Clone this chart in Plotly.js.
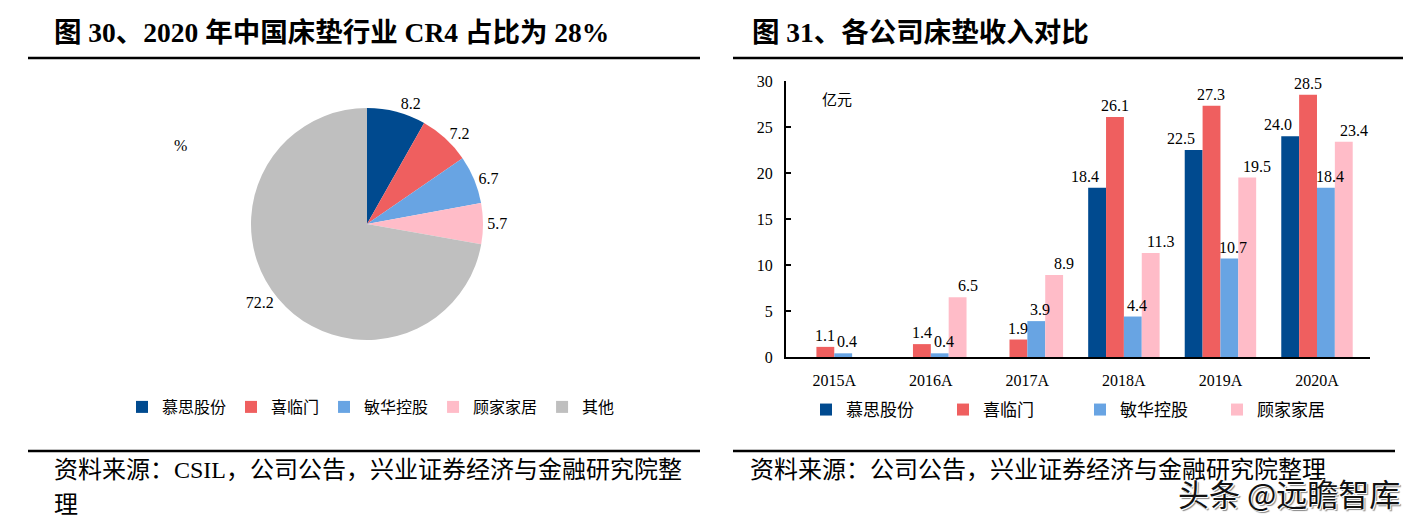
<!DOCTYPE html>
<html>
<head>
<meta charset="utf-8">
<script src="https://cdn.plot.ly/plotly-3.0.1.min.js"></script>
<style>html,body{margin:0;padding:0;background:#fff;}#chart{width:1410px;height:522px;}</style>
</head>
<body>
<div id="chart"></div>
<script>
// ---- data ----
const pieLabels = ['慕思股份', '喜临门', '敏华控股', '顾家家居', '其他'];
const pieValues = [8.2, 7.2, 6.7, 5.7, 72.2];

const years = ['2015A', '2016A', '2017A', '2018A', '2019A', '2020A'];
const companies = ['慕思股份', '喜临门', '敏华控股', '顾家家居'];
const derucci = [null, null, null, 18.4, 22.5, 24.0];
const xilinmen = [1.1, 1.4, 1.9, 26.1, 27.3, 28.5];
const minhua = [0.4, 0.4, 3.9, 4.4, 10.7, 18.4];
const kuka = [null, 6.5, 8.9, 11.3, 19.5, 23.4];
const yTicks = [0, 5, 10, 15, 20, 25, 30];

// ---- style ----
const colors = ['#004A8F', '#EF5F5F', '#68A4E3', '#FFBCC8', '#BFBFBF'];
const serif = 'Liberation Serif, Noto Sans CJK SC, serif';
const W = 1410, H = 522;
const px = v => v / W;
const py = v => 1 - v / H;
const X0 = 786, X1 = 1370, BARGAP = 0.26;
const labelNudge = [-12, 0, 4, 10];   // per-series horizontal nudge of value labels (px)

const pie = {
  type: 'pie',
  labels: pieLabels,
  values: pieValues,
  sort: false,
  direction: 'clockwise',
  rotation: 0,
  marker: {colors: colors, line: {width: 0}},
  textinfo: 'value',
  texttemplate: '%{value:.1f}',
  textposition: 'outside',
  textfont: {family: serif, size: 16, color: '#000'},
  outsidetextfont: {family: serif, size: 16, color: '#000'},
  automargin: false,
  domain: {x: [px(251), px(483)], y: [py(340), py(108)]},
  legend: 'legend',
  hoverinfo: 'label+value'
};

const series = [derucci, xilinmen, minhua, kuka];
const bars = series.map((vals, i) => ({
  type: 'bar',
  name: companies[i],
  x: years,
  y: vals,
  marker: {color: colors[i]},
  xaxis: 'x',
  yaxis: 'y',
  legend: 'legend2'
}));

// value labels drawn on top of all bars, positioned from the data
const catW = (X1 - X0) / years.length;
const barW = catW * (1 - BARGAP) / series.length;
const labelAnns = [];
series.forEach((vals, i) => {
  vals.forEach((v, j) => {
    if (v == null) return;
    labelAnns.push({
      xref: 'x', yref: 'y', x: years[j], y: v,
      xanchor: 'center', yanchor: 'bottom', yshift: 1,
      xshift: (i - (series.length - 1) / 2) * barW + labelNudge[i],
      showarrow: false, text: v.toFixed(1),
      font: {family: serif, size: 16, color: '#000'}
    });
  });
});

const layout = {
  width: W, height: H,
  margin: {l: 0, r: 0, t: 0, b: 0},
  paper_bgcolor: '#fff',
  plot_bgcolor: '#fff',
  font: {family: serif, color: '#000'},
  barmode: 'group',
  bargap: BARGAP,
  bargroupgap: 0,
  xaxis: {
    domain: [px(X0), px(X1)],
    anchor: 'y',
    showline: true, linecolor: '#000', linewidth: 2,
    ticks: '', showgrid: false, zeroline: false,
    tickfont: {family: serif, size: 16, color: '#000'},
    ticklabelstandoff: 8,
    fixedrange: true
  },
  yaxis: {
    domain: [py(357), py(81)],
    anchor: 'x',
    range: [0, 30],
    tickvals: yTicks,
    ticktext: yTicks.map(String),
    showline: true, linecolor: '#000', linewidth: 2,
    ticks: 'inside', ticklen: 5, tickwidth: 1.5, tickcolor: '#000',
    showgrid: false, zeroline: false,
    tickfont: {family: serif, size: 16, color: '#000'},
    ticklabelstandoff: 8,
    fixedrange: true
  },
  legend: {
    orientation: 'h',
    x: px(122), xanchor: 'left',
    y: py(407), yanchor: 'middle',
    font: {family: serif, size: 16, color: '#000'},
    itemwidth: 30,
    bgcolor: 'rgba(0,0,0,0)'
  },
  legend2: {
    orientation: 'h',
    x: px(806), xanchor: 'left',
    y: py(410), yanchor: 'middle',
    font: {family: serif, size: 17, color: '#000'},
    entrywidth: 92,
    itemwidth: 30,
    bgcolor: 'rgba(0,0,0,0)'
  },
  shapes: [
    {type: 'line', xref: 'paper', yref: 'paper', x0: px(28), x1: px(700), y0: py(58), y1: py(58), line: {color: '#000', width: 2.5}},
    {type: 'line', xref: 'paper', yref: 'paper', x0: px(733), x1: px(1403), y0: py(58), y1: py(58), line: {color: '#000', width: 2.5}},
    {type: 'line', xref: 'paper', yref: 'paper', x0: px(28), x1: px(700), y0: py(451), y1: py(451), line: {color: '#000', width: 2.5}},
    {type: 'line', xref: 'paper', yref: 'paper', x0: px(733), x1: px(1395), y0: py(451), y1: py(451), line: {color: '#000', width: 2.5}}
  ],
  annotations: [
    {xref: 'paper', yref: 'paper', x: px(52), y: py(33), xanchor: 'left', yanchor: 'middle', showarrow: false,
     text: '<b>图 30、2020 年中国床垫行业 CR4 占比为 28%</b>', font: {family: serif, size: 27.5, color: '#000'}},
    {xref: 'paper', yref: 'paper', x: px(750), y: py(33), xanchor: 'left', yanchor: 'middle', showarrow: false,
     text: '<b>图 31、各公司床垫收入对比</b>', font: {family: serif, size: 27.5, color: '#000'}},
    {xref: 'paper', yref: 'paper', x: px(180), y: py(145), xanchor: 'center', yanchor: 'middle', showarrow: false,
     text: '%', font: {family: serif, size: 16, color: '#000'}},
    {xref: 'paper', yref: 'paper', x: px(820), y: py(100), xanchor: 'left', yanchor: 'middle', showarrow: false,
     text: '亿元', font: {family: serif, size: 15, color: '#000'}},
    {xref: 'paper', yref: 'paper', x: px(52), y: py(470), xanchor: 'left', yanchor: 'middle', showarrow: false,
     text: '资料来源：CSIL，公司公告，兴业证券经济与金融研究院整', font: {family: serif, size: 24, color: '#000'}},
    {xref: 'paper', yref: 'paper', x: px(52), y: py(505), xanchor: 'left', yanchor: 'middle', showarrow: false,
     text: '理', font: {family: serif, size: 24, color: '#000'}},
    {xref: 'paper', yref: 'paper', x: px(748), y: py(470), xanchor: 'left', yanchor: 'middle', showarrow: false,
     text: '资料来源：公司公告，兴业证券经济与金融研究院整理', font: {family: serif, size: 24, color: '#000'}},
    {xref: 'paper', yref: 'paper', x: px(1402), y: py(492), xanchor: 'right', yanchor: 'middle', showarrow: false,
     text: '头条 @远瞻智库', font: {family: 'Noto Sans CJK SC, sans-serif', size: 31, color: '#111',
       shadow: '1px 1px 0 #fff, -1px -1px 0 #fff, 2px 2px 1px #888'}}
  ].concat(labelAnns)
};

Plotly.newPlot('chart', [pie].concat(bars), layout, {displayModeBar: false, staticPlot: true});
</script>
</body>
</html>
